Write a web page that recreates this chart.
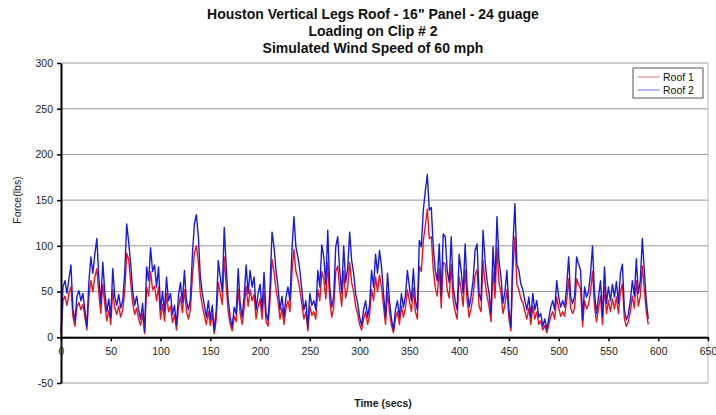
<!DOCTYPE html>
<html>
<head>
<meta charset="utf-8">
<script src="https://cdn.jsdelivr.net/npm/d3@7"></script>
<style>
  body { margin: 0; background: #fff; }
  svg { display: block; font-family: 'Liberation Sans', Arial, sans-serif; }
</style>
</head>
<body>
<main></main>
<script>
const titleLines = [
  'Houston Vertical Legs Roof - 16" Panel - 24 guage',
  'Loading on Clip # 2',
  'Simulated Wind Speed of 60 mph',
];
const seriesNames = ['Roof 1', 'Roof 2'];
const xTicks = [0, 50, 100, 150, 200, 250, 300, 350, 400, 450, 500, 550, 600, 650];
const yTicks = [-50, 0, 50, 100, 150, 200, 250, 300];

// readings every 2 secs, 0..590
const sampleStep = 2;

const roof2 = [
  5, 55, 62, 48, 64, 79, 30, 18, 45, 51,
  40, 48, 30, 12, 60, 88, 70, 91, 108, 66,
  37, 82, 50, 28, 42, 22, 75, 45, 35, 47,
  32, 40, 70, 124, 104, 80, 51, 35, 45, 30,
  20, 37, 6, 77, 62, 98, 72, 79, 55, 77,
  30, 50, 28, 66, 40, 48, 25, 35, 13, 45,
  60, 38, 73, 40, 30, 42, 90, 124, 134, 110,
  66, 48, 35, 22, 40, 20, 35, 7, 30, 84,
  66, 50, 120, 77, 40, 22, 11, 33, 25, 75,
  37, 22, 45, 79, 48, 73, 55, 66, 30, 48,
  58, 30, 71, 26, 18, 55, 115, 99, 73, 55,
  30, 45, 22, 44, 55, 40, 95, 132, 99, 88,
  73, 51, 30, 40, 11, 48, 35, 40, 30, 73,
  55, 101, 88, 58, 117, 55, 33, 45, 99, 110,
  73, 48, 100, 60, 75, 115, 84, 70, 48, 37,
  22, 13, 30, 40, 22, 35, 73, 55, 91, 70,
  95, 77, 48, 22, 70, 40, 20, 8, 30, 40,
  22, 48, 33, 45, 73, 55, 40, 75, 40, 30,
  106, 99, 139, 160, 178, 139, 142, 99, 73, 62,
  102, 45, 113, 110, 73, 60, 110, 55, 40, 30,
  91, 73, 48, 102, 55, 33, 45, 62, 95, 102,
  48, 40, 117, 84, 62, 48, 26, 99, 60, 132,
  84, 66, 37, 50, 73, 30, 11, 100, 146, 80,
  73, 58, 52, 40, 30, 44, 22, 48, 30, 40,
  22, 26, 12, 20, 9, 20, 33, 40, 30, 62,
  44, 33, 40, 33, 55, 88, 44, 37, 45, 88,
  80, 73, 19, 55, 44, 50, 70, 100, 48, 26,
  44, 62, 22, 77, 37, 55, 40, 58, 44, 61,
  37, 70, 80, 30, 19, 25, 40, 62, 45, 86,
  48, 62, 108, 73, 40, 20,
];

const roof1 = [
  3, 40, 45, 35, 48, 55, 22, 12, 33, 38,
  30, 36, 22, 8, 44, 62, 50, 66, 75, 48,
  26, 58, 36, 18, 30, 14, 52, 32, 25, 34,
  22, 30, 50, 92, 85, 60, 38, 25, 32, 20,
  13, 26, 4, 55, 45, 72, 52, 56, 40, 55,
  20, 36, 18, 48, 28, 34, 16, 25, 8, 32,
  44, 27, 52, 29, 20, 30, 66, 92, 100, 82,
  48, 34, 24, 14, 28, 13, 25, 4, 20, 60,
  48, 36, 88, 56, 28, 14, 7, 23, 17, 53,
  26, 14, 32, 56, 34, 52, 40, 47, 20, 34,
  42, 20, 50, 17, 12, 40, 85, 72, 52, 40,
  20, 32, 14, 31, 40, 28, 70, 96, 72, 64,
  52, 36, 20, 28, 7, 34, 24, 28, 20, 52,
  40, 72, 64, 42, 82, 40, 22, 32, 72, 78,
  52, 34, 72, 43, 54, 82, 60, 50, 34, 26,
  14, 8, 20, 28, 14, 24, 52, 40, 66, 50,
  68, 55, 34, 14, 50, 28, 13, 5, 20, 28,
  14, 34, 22, 32, 52, 40, 28, 54, 28, 20,
  78, 72, 105, 122, 140, 108, 110, 74, 54, 45,
  75, 32, 82, 80, 52, 43, 80, 40, 28, 20,
  66, 52, 34, 74, 40, 22, 32, 45, 68, 74,
  34, 28, 84, 60, 45, 34, 17, 72, 43, 98,
  60, 48, 26, 36, 52, 20, 7, 74, 110, 58,
  52, 42, 38, 28, 20, 32, 14, 34, 20, 28,
  14, 18, 8, 13, 5, 13, 23, 28, 20, 44,
  32, 23, 28, 23, 40, 64, 32, 26, 32, 64,
  58, 52, 12, 40, 31, 36, 50, 72, 34, 17,
  31, 45, 14, 55, 26, 40, 28, 42, 31, 44,
  26, 50, 58, 20, 12, 17, 28, 45, 32, 62,
  34, 45, 78, 52, 28, 14,
];

const colors = ['#e8141e', '#1a1adc'];

const dimensions = {
  width: 716,
  height: 415,
  margin: {
    top: 63,
    right: 8,
    bottom: 32,
    left: 61,
  },
};

dimensions.boundedWidth =
  dimensions.width - (dimensions.margin.left + dimensions.margin.right);
dimensions.boundedHeight =
  dimensions.height - (dimensions.margin.top + dimensions.margin.bottom);

const xScale = d3
  .scaleLinear()
  .domain([0, 650])
  .range([0, dimensions.boundedWidth]);

const yScale = d3
  .scaleLinear()
  .domain([-50, 300])
  .range([dimensions.boundedHeight, 0]);

const lineGenerator = d3
  .line()
  .x((d, i) => xScale(i * sampleStep))
  .y(d => yScale(d));

const svg = d3
  .select('main')
  .append('svg')
  .attr('width', dimensions.width)
  .attr('height', dimensions.height);

svg
  .append('rect')
  .attr('width', dimensions.width)
  .attr('height', dimensions.height)
  .attr('fill', '#fff');

const titleGroup = svg
  .append('g')
  .attr('font-weight', 'bold')
  .attr('font-size', 14)
  .attr('text-anchor', 'middle')
  .attr('fill', '#111');

titleLines.forEach((line, i) => {
  titleGroup
    .append('text')
    .attr('x', 373)
    .attr('y', 19 + i * 17)
    .text(line);
});

const bounds = svg
  .append('g')
  .attr(
    'transform',
    `translate(${dimensions.margin.left} ${dimensions.margin.top})`
  );

// gridlines
bounds
  .append('g')
  .selectAll('line')
  .data(yTicks)
  .join('line')
  .attr('x1', 0)
  .attr('x2', dimensions.boundedWidth)
  .attr('y1', d => yScale(d))
  .attr('y2', d => yScale(d))
  .attr('stroke', '#999')
  .attr('stroke-width', 1);

bounds
  .append('line')
  .attr('x1', dimensions.boundedWidth)
  .attr('x2', dimensions.boundedWidth)
  .attr('y1', 0)
  .attr('y2', dimensions.boundedHeight)
  .attr('stroke', '#bbb');

// data
[roof1, roof2].forEach((values, i) => {
  bounds
    .append('path')
    .attr('fill', 'none')
    .attr('stroke', colors[i])
    .attr('stroke-width', 1.4)
    .attr('stroke-linejoin', 'round')
    .attr('d', lineGenerator(values));
});

// axes
const yAxis = d3
  .axisLeft(yScale)
  .tickValues(yTicks)
  .tickFormat(d => String(d))
  .tickSize(4)
  .tickSizeOuter(0)
  .tickPadding(4);

const xAxis = d3
  .axisBottom(xScale)
  .tickValues(xTicks)
  .tickFormat(d => String(d))
  .tickSize(4)
  .tickSizeOuter(0)
  .tickPadding(6);

const yAxisGroup = bounds.append('g').call(yAxis);

const xAxisGroup = bounds
  .append('g')
  .attr('transform', `translate(0 ${yScale(0)})`)
  .call(xAxis);

[xAxisGroup, yAxisGroup].forEach(g => {
  g.select('.domain').attr('stroke', '#000').attr('stroke-width', 2);
  g.selectAll('.tick line').attr('stroke', '#000').attr('stroke-width', 1.5);
  g.selectAll('text')
    .attr('fill', '#222')
    .attr('font-size', 10.5)
    .attr('font-family', "'Liberation Sans', Arial, sans-serif");
});

svg
  .append('text')
  .attr('transform', 'translate(21 200) rotate(-90)')
  .attr('text-anchor', 'middle')
  .attr('font-size', 10.5)
  .attr('fill', '#222')
  .text('Force(lbs)');

svg
  .append('text')
  .attr('x', 383)
  .attr('y', 407)
  .attr('text-anchor', 'middle')
  .attr('font-size', 10.5)
  .attr('font-weight', 'bold')
  .attr('fill', '#222')
  .text('Time (secs)');

// legend
const legend = svg.append('g').attr('transform', 'translate(633 68)');

legend
  .append('rect')
  .attr('width', 70)
  .attr('height', 30)
  .attr('fill', '#fff')
  .attr('stroke', '#555')
  .attr('stroke-width', 1);

seriesNames.forEach((name, i) => {
  const row = legend.append('g').attr('transform', `translate(0 ${9 + i * 13})`);
  row
    .append('line')
    .attr('x1', 5)
    .attr('x2', 27)
    .attr('stroke', colors[i])
    .attr('stroke-width', 1)
    .attr('opacity', 0.6);
  row
    .append('text')
    .attr('x', 30)
    .attr('y', 4)
    .attr('font-size', 10.5)
    .attr('fill', '#111')
    .text(name);
});
</script>
</body>
</html>
